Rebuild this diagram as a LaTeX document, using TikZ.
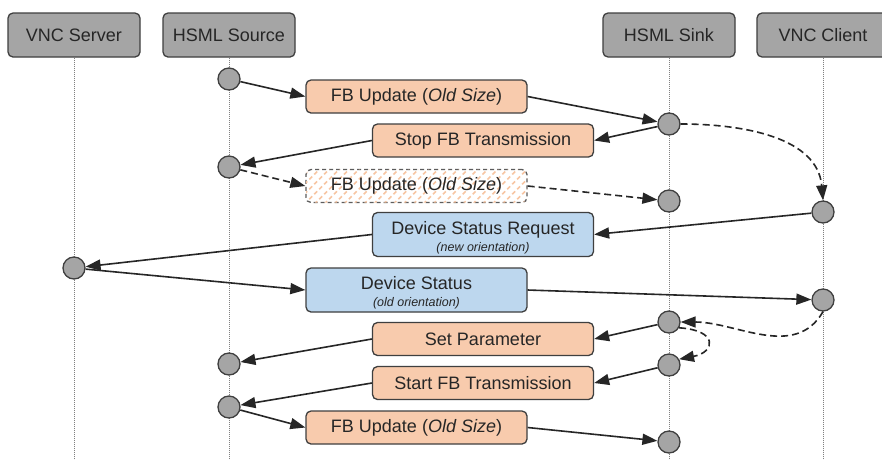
\documentclass[tikz,border=0pt]{standalone}
\usepackage{fontspec}
\setmainfont{Liberation Sans}
\usetikzlibrary{arrows.meta,patterns.meta}
\definecolor{hdrgray}{HTML}{A5A5A5}
\definecolor{edgegray}{HTML}{3F3F3F}
\definecolor{orangefill}{HTML}{F8CBAD}
\definecolor{bluefill}{HTML}{BDD7EE}
\definecolor{hatchcol}{HTML}{F4B183}
\definecolor{dotgray}{HTML}{808080}
\definecolor{txt}{HTML}{262626}
\newcommand\subtxt{\fontsize{12.5}{14}\selectfont\itshape}
\newcommand\toplift{\rule{0pt}{19pt}}
\begin{document}
\begin{tikzpicture}[x=1pt,y=-1pt,
  hdr/.style={draw=edgegray, line width=1.3pt, fill=hdrgray, rounded corners=5pt,
    minimum width=132pt, minimum height=44pt, inner sep=0pt, text=txt,
    font=\fontsize{18}{21}\selectfont},
  msgbox/.style={draw=edgegray, line width=1.3pt, rounded corners=5pt,
    minimum width=221pt, minimum height=33pt, inner sep=0pt, text=txt, align=center,
    font=\fontsize{18}{21}\selectfont},
  orangebox/.style={msgbox, fill=orangefill},
  bluebox/.style={msgbox, fill=bluefill, minimum height=44pt},
  hatchbox/.style={msgbox, draw=edgegray!85, dash pattern=on 4pt off 3pt, fill=white,
    postaction={pattern={Lines[angle=45,distance=7pt,line width=1.6pt]}, pattern color=hatchcol!75}},
  dot/.style={circle, draw=edgegray, line width=1.3pt, fill=hdrgray, minimum size=22pt, inner sep=0pt},
  life/.style={draw=dotgray, line width=0.8pt, dash pattern=on 1pt off 1pt},
  msg/.style={draw=black!85, line width=1.6pt, -{Triangle[length=15pt,width=11pt]}},
  dmsg/.style={msg, dash pattern=on 7pt off 4pt}
]
\useasboundingbox (0,0) rectangle (882,459);
\clip (0,0) rectangle (882,459);
\fill[white] (0,0) rectangle (882,459);

% headers
\node[hdr] (hvs) at (74,35) {VNC Server};
\node[hdr] (hhs) at (229,35) {HSML Source};
\node[hdr] (hsk) at (669,35) {HSML Sink};
\node[hdr] (hvc) at (823,35) {VNC Client};

% lifelines
\coordinate (evs) at (74,470);
\coordinate (ehs) at (229,470);
\coordinate (esk) at (669,470);
\coordinate (evc) at (823,470);
\draw[life] (hvs) -- (evs);
\draw[life] (hhs) -- (ehs);
\draw[life] (hsk) -- (esk);
\draw[life] (hvc) -- (evc);

% activation points
\node[dot] (c1) at (229,79) {};
\node[dot] (s1) at (669,124) {};
\node[dot] (c2) at (229,167) {};
\node[dot] (s2) at (669,201) {};
\node[dot] (k1) at (823,212) {};
\node[dot] (v1) at (74,268) {};
\node[dot] (k2) at (823,300) {};
\node[dot] (s3) at (669,322) {};
\node[dot] (c3) at (229,364) {};
\node[dot] (s4) at (669,365) {};
\node[dot] (c4) at (229,407) {};
\node[dot] (s5) at (669,442) {};

% message boxes
\node[orangebox] (fb1) at (416.5,96.5) {FB Update (\textit{Old Size})};
\node[orangebox] (stop) at (483,140.5) {Stop FB Transmission};
\node[hatchbox] (fbd) at (416.5,186) {FB Update (\textit{Old Size})};
\node[bluebox] (dsr) at (483,234.5) {\toplift Device Status Request\\[-4pt]{\subtxt (new orientation)}};
\node[bluebox] (ds) at (416.5,290) {\toplift Device Status\\[-4pt]{\subtxt (old orientation)}};
\node[orangebox] (setp) at (483,339) {Set Parameter};
\node[orangebox] (start) at (483,383) {Start FB Transmission};
\node[orangebox] (fb3) at (416.5,427.5) {FB Update (\textit{Old Size})};

% messages
\draw[msg] (c1) -- (fb1.west);
\draw[msg] (fb1.east) -- (s1);
\draw[msg] (s1) -- (stop.east);
\draw[msg] (stop.west) -- (c2);
\draw[dmsg] (c2) -- (fbd.west);
\draw[dmsg] (fbd.east) -- (s2);
\draw[dmsg] (s1.east) to[out=0,in=95] (k1.north);
\draw[msg] (k1) -- (dsr.east);
\draw[msg] (dsr.west) -- (v1);
\draw[msg] (v1) -- (ds.west);
\draw[msg] (ds.east) -- (k2);
\draw[dmsg] (k2.south) to[out=-120,in=0] (s3.east);
\draw[msg] (s3) -- (setp.east);
\draw[msg] (setp.west) -- (c3);
\draw[dmsg] (s3.-30) .. controls (718,330) and (716,352) .. (s4.30);
\draw[msg] (s4) -- (start.east);
\draw[msg] (start.west) -- (c4);
\draw[msg] (c4) -- (fb3.west);
\draw[msg] (fb3.east) -- (s5);
\end{tikzpicture}
\end{document}
